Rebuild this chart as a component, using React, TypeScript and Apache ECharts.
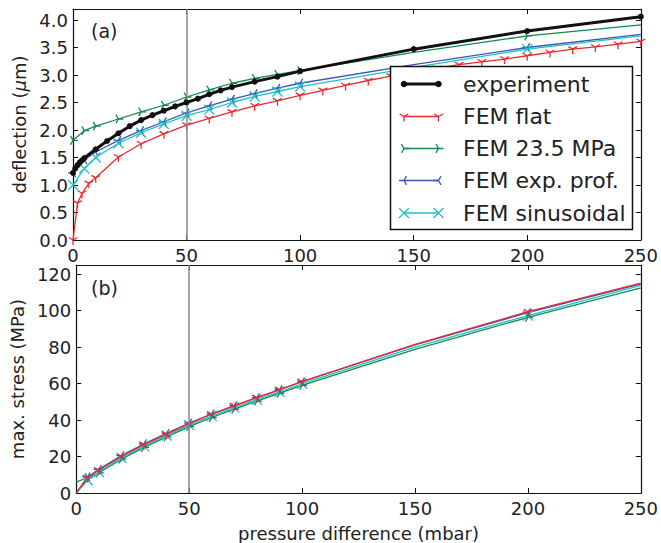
import React, { useEffect, useRef } from 'react';
import * as echarts from 'echarts';

// ---------- (a) deflection (µm) vs pressure difference (mbar) ----------
const expX = [0, 1, 2, 3, 4, 5, 10, 15, 20, 25, 30, 35, 40, 45, 50, 55, 60, 65, 70, 80, 90, 100, 150, 200, 250];
const expY = [1.22, 1.30, 1.36, 1.41, 1.45, 1.49, 1.65, 1.80, 1.94, 2.07, 2.18, 2.27, 2.35, 2.43, 2.50, 2.57, 2.65, 2.72, 2.78, 2.88, 2.97, 3.07, 3.47, 3.80, 4.06];

const flatX = [0, 2, 4, 7, 10, 20, 30, 40, 50, 60, 70, 80, 90, 100, 110, 120, 130, 140, 150, 160, 170, 180, 190, 200, 210, 220, 230, 240, 250];
const flatY = [0, 0.67, 0.85, 1.03, 1.13, 1.51, 1.75, 1.93, 2.09, 2.21, 2.33, 2.44, 2.53, 2.63, 2.72, 2.81, 2.90, 2.98, 3.05, 3.12, 3.19, 3.24, 3.29, 3.35, 3.41, 3.47, 3.51, 3.56, 3.61];

const femX = [0, 5, 10, 20, 30, 40, 50, 60, 70, 80, 90, 100, 150, 200, 250];
const preY = [1.81, 1.99, 2.07, 2.20, 2.33, 2.45, 2.60, 2.73, 2.85, 2.94, 3.01, 3.08, 3.41, 3.71, 3.91];
const profY = [1.22, 1.46, 1.60, 1.81, 1.99, 2.15, 2.31, 2.44, 2.56, 2.66, 2.76, 2.85, 3.19, 3.50, 3.74];
const sinY = [1.00, 1.30, 1.50, 1.76, 1.95, 2.11, 2.26, 2.37, 2.50, 2.61, 2.70, 2.79, 3.14, 3.47, 3.71];
const femNoMarkerX = [150, 250];

// ---------- (b) max. stress (MPa) vs pressure difference (mbar) ----------
const stressX = [0, 5, 10, 20, 30, 40, 50, 60, 70, 80, 90, 100, 150, 200, 250];
const stressFlat = [0, 8.5, 12.5, 20.0, 26.5, 32.3, 38.0, 43.2, 47.8, 52.3, 56.7, 61.1, 81.5, 99.4, 115.0];
const stressProf = [0, 8.8, 13.0, 20.5, 27.0, 32.7, 38.3, 43.3, 47.9, 52.3, 56.6, 61.0, 81.2, 98.9, 114.6];
const stressSin = [0, 7.0, 11.5, 19.2, 25.7, 31.5, 37.2, 42.2, 46.8, 51.2, 55.5, 59.9, 80.0, 97.3, 113.8];
const stressPre = [6.0, 8.5, 11.0, 18.6, 25.0, 30.8, 36.4, 41.4, 46.0, 50.4, 54.7, 59.0, 78.8, 96.3, 112.4];
const stressNoMarkerX = [0, 150, 250];

const refX = 50;

const legendNames = ['experiment', 'FEM flat', 'FEM 23.5 MPa', 'FEM exp. prof.', 'FEM sinusoidal'];

const C_BLACK = '#111111';
const C_RED = '#ea2a2e';
const C_GREEN = '#138a4a';
const C_BLUE = '#3b55b5';
const C_CYAN = '#22c0c4';

const SYM_TRI_DOWN = 'path://M-5,-5L-5,-5M5,5L5,5M0,0L0,5M0,0L-4.33,-2.5M0,0L4.33,-2.5';
const SYM_TRI_RIGHT = 'path://M-5,-5L-5,-5M5,5L5,5M0,0L5,0M0,0L-2.5,-4.33M0,0L-2.5,4.33';
const SYM_TRI_LEFT = 'path://M-5,-5L-5,-5M5,5L5,5M0,0L-5,0M0,0L2.5,-4.33M0,0L2.5,4.33';
const SYM_X = 'path://M-5,-5L5,5M-5,5L5,-5';

const FONT = 'DejaVu Sans';

function pts(xs: number[], ys: number[], noMarker: number[] = []) {
  return xs.map((x, i) =>
    noMarker.indexOf(x) >= 0 ? { value: [x, ys[i]], symbol: 'none' } : [x, ys[i]]
  );
}

function lineSeries(name: string, color: string, symbol: string, data: any[], xi: number, yi: number, z = 2) {
  return {
    name,
    type: 'line',
    xAxisIndex: xi,
    yAxisIndex: yi,
    data,
    symbol,
    symbolSize: 10,
    symbolKeepAspect: true,
    showAllSymbol: true,
    z,
    lineStyle: { color, width: 1.3 },
    itemStyle: { color, borderColor: color, borderWidth: 1.3 },
    emphasis: { disabled: true },
  };
}

let shapesRegistered = false;
function registerShapes() {
  if (shapesRegistered) return;
  shapesRegistered = true;
  echarts.graphic.registerShape('tridown', echarts.graphic.extendPath('M0,0L0,5M0,0L-4.33,-2.5M0,0L4.33,-2.5', {}) as any);
  echarts.graphic.registerShape('triright', echarts.graphic.extendPath('M0,0L5,0M0,0L-2.5,-4.33M0,0L-2.5,4.33', {}) as any);
  echarts.graphic.registerShape('trileft', echarts.graphic.extendPath('M0,0L-5,0M0,0L2.5,-4.33M0,0L2.5,4.33', {}) as any);
  echarts.graphic.registerShape('xmark', echarts.graphic.extendPath('M-5,-5L5,5M-5,5L5,-5', {}) as any);
}

function buildLegend() {
  const els: any[] = [];
  const x0 = 390.5, y0 = 66.5, w = 242, h = 163;
  els.push({ type: 'rect', z: 100, shape: { x: x0, y: y0, width: w, height: h }, style: { fill: '#fff', stroke: '#111', lineWidth: 1.5 } });
  const rowY = [84, 116.5, 148.5, 180.5, 213];
  const lx1 = 404, lx2 = 438.5;
  const colors = [C_BLACK, C_RED, C_GREEN, C_BLUE, C_CYAN];
  const shapes = ['', 'tridown', 'triright', 'trileft', 'xmark'];
  rowY.forEach((y, i) => {
    const c = colors[i];
    els.push({ type: 'line', z: 101, shape: { x1: lx1, y1: y, x2: lx2, y2: y }, style: { stroke: c, lineWidth: i === 0 ? 3 : 1.3 } });
    [lx1, lx2].forEach((mx) => {
      if (i === 0) {
        els.push({ type: 'circle', z: 102, shape: { cx: mx, cy: y, r: 3.3 }, style: { fill: c } });
      } else {
        els.push({ type: shapes[i], z: 102, x: mx, y, style: { stroke: c, lineWidth: 1.3, fill: 'none' } });
      }
    });
    els.push({
      type: 'text', z: 102, x: 463, y,
      style: { text: legendNames[i], fontSize: 22, fontFamily: FONT, fill: '#222', verticalAlign: 'middle', align: 'left' },
    });
  });
  els.push({ type: 'text', z: 50, x: 91, y: 31, style: { text: '(a)', fontSize: 19, fontFamily: FONT, fill: '#222', verticalAlign: 'middle', align: 'left' } });
  els.push({ type: 'text', z: 50, x: 91, y: 288, style: { text: '(b)', fontSize: 19, fontFamily: FONT, fill: '#222', verticalAlign: 'middle', align: 'left' } });
  return els;
}

function xAxisDef(grid: number, position: 'top' | 'bottom', labels: boolean, name?: string) {
  return {
    type: 'value',
    gridIndex: grid,
    position,
    min: 0,
    max: 250,
    interval: 50,
    name: name || '',
    nameLocation: 'middle',
    nameGap: 31,
    nameTextStyle: { fontSize: 18, fontFamily: FONT, color: '#222' },
    axisLine: { show: true, onZero: false, lineStyle: { color: '#111', width: 1.2 } },
    axisTick: { show: true, inside: true, length: 5, lineStyle: { color: '#111', width: 1 } },
    axisLabel: { show: labels, fontSize: 18, fontFamily: FONT, color: '#222', margin: 6 },
    splitLine: { show: false },
  };
}

function yAxisDef(grid: number, position: 'left' | 'right', labels: boolean, min: number, max: number, interval: number, fmt: (v: number) => string, name?: string) {
  return {
    type: 'value',
    gridIndex: grid,
    position,
    min,
    max,
    interval,
    name: name || '',
    nameLocation: 'middle',
    nameGap: 40,
    nameTextStyle: {
      fontSize: 18, fontFamily: FONT, color: '#222',
      rich: { i: { fontSize: 18, fontFamily: FONT, color: '#222', fontStyle: 'italic' } },
    },
    axisLine: { show: true, onZero: false, lineStyle: { color: '#111', width: 1.2 } },
    axisTick: { show: true, inside: true, length: 5, lineStyle: { color: '#111', width: 1 } },
    axisLabel: { show: labels, fontSize: 18, fontFamily: FONT, color: '#222', margin: 5, formatter: fmt },
    splitLine: { show: false },
  };
}

function refSeries(xi: number, yi: number) {
  return {
    name: 'ref' + xi,
    type: 'line',
    xAxisIndex: xi,
    yAxisIndex: yi,
    data: [[refX, 0]],
    symbol: 'none',
    lineStyle: { width: 0 },
    z: 1,
    silent: true,
    markLine: {
      silent: true,
      symbol: ['none', 'none'],
      label: { show: false },
      lineStyle: { color: '#8a8a8a', width: 1.5, type: 'solid' },
      data: [{ xAxis: refX }],
    },
  };
}

export default function App() {
  const ref = useRef<HTMLDivElement>(null);
  useEffect(() => {
    if (!ref.current) return;
    registerShapes();
    const chart = echarts.init(ref.current, undefined, { renderer: 'svg' });
    const fmtA = (v: number) => (Math.abs(v * 2 - Math.round(v * 2)) < 1e-9 ? v.toFixed(1) : '');
    const fmtB = (v: number) => (Math.abs(v % 20) < 1e-9 ? String(v) : '');
    const option: any = {
      animation: false,
      textStyle: { fontFamily: FONT },
      grid: [
        { left: 73, top: 9, width: 571, height: 231 },
        { left: 73, top: 265, width: 571, height: 232 },
      ],
      xAxis: [
        xAxisDef(0, 'bottom', true),
        xAxisDef(0, 'top', false),
        xAxisDef(1, 'bottom', true, 'pressure difference (mbar)'),
        xAxisDef(1, 'top', false),
      ],
      yAxis: [
        yAxisDef(0, 'left', true, 0, 4.2, 0.5, fmtA, 'deflection ({i|μ}m)'),
        yAxisDef(0, 'right', false, 0, 4.2, 0.5, fmtA),
        yAxisDef(1, 'left', true, 0, 125, 20, fmtB, 'max. stress (MPa)'),
        yAxisDef(1, 'right', false, 0, 125, 20, fmtB),
      ],
      series: [
        refSeries(0, 0),
        refSeries(2, 2),
        lineSeries('FEM flat', C_RED, SYM_TRI_DOWN, pts(flatX, flatY), 0, 0, 3),
        lineSeries('FEM 23.5 MPa', C_GREEN, SYM_TRI_RIGHT, pts(femX, preY, femNoMarkerX), 0, 0, 3),
        lineSeries('FEM exp. prof.', C_BLUE, SYM_TRI_LEFT, pts(femX, profY, femNoMarkerX), 0, 0, 3),
        lineSeries('FEM sinusoidal', C_CYAN, SYM_X, pts(femX, sinY, femNoMarkerX), 0, 0, 3),
        {
          name: 'experiment',
          type: 'line',
          xAxisIndex: 0,
          yAxisIndex: 0,
          data: pts(expX, expY),
          symbol: 'circle',
          symbolSize: 6,
          showAllSymbol: true,
          z: 5,
          lineStyle: { color: C_BLACK, width: 3 },
          itemStyle: { color: C_BLACK, borderWidth: 0 },
          emphasis: { disabled: true },
        },
        lineSeries('FEM 23.5 MPa (b)', C_GREEN, SYM_TRI_RIGHT, pts(stressX, stressPre, stressNoMarkerX), 2, 2, 3),
        lineSeries('FEM sinusoidal (b)', C_CYAN, SYM_X, pts(stressX, stressSin, stressNoMarkerX), 2, 2, 3),
        lineSeries('FEM exp. prof. (b)', C_BLUE, SYM_TRI_LEFT, pts(stressX, stressProf, stressNoMarkerX), 2, 2, 3),
        lineSeries('FEM flat (b)', C_RED, SYM_TRI_DOWN, pts(stressX, stressFlat, stressNoMarkerX), 2, 2, 4),
      ],
      graphic: buildLegend(),
    };
    chart.setOption(option);
    return () => chart.dispose();
  }, []);
  return <div ref={ref} style={{ position: 'absolute', left: 0, top: 0, width: 661, height: 543 }} />;
}
